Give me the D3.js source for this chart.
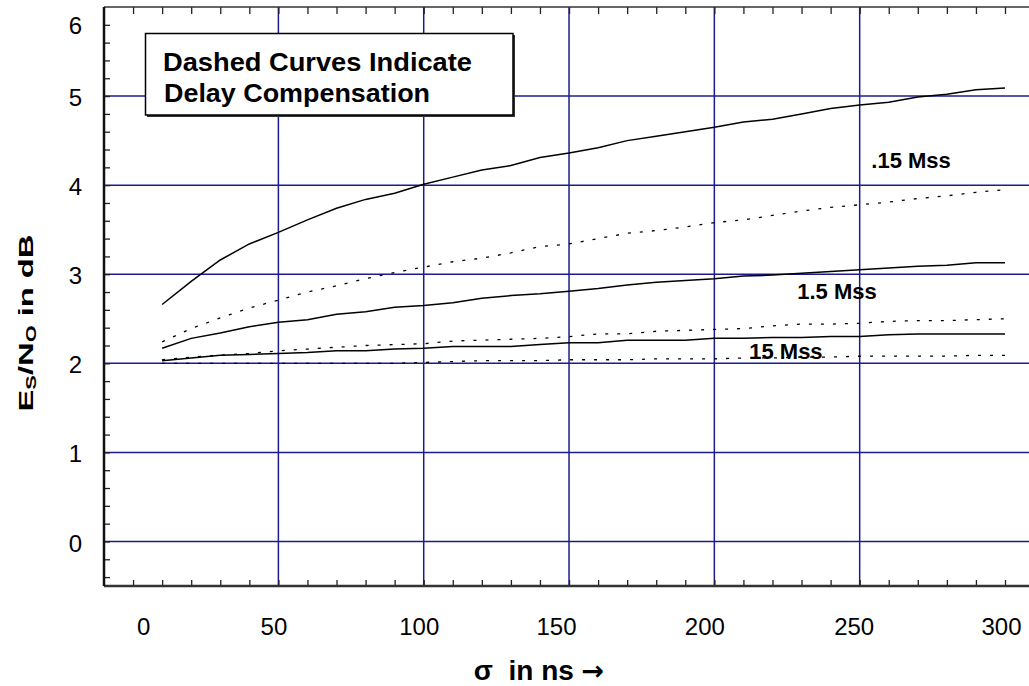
<!DOCTYPE html>
<html>
<head>
<meta charset="utf-8">
<script src="https://cdn.jsdelivr.net/npm/d3@7"></script>
<style>
  body { margin: 0; background: #fff; }
  svg { font-family: "Liberation Sans", Arial, sans-serif; }
  .tick-label text { font-size: 24px; fill: #000; }
</style>
</head>
<body>
<div id="chart"></div>
<script>
// sigma (ns) sample points, every 10 ns
const sigma = [10,20,30,40,50,60,70,80,90,100,110,120,130,140,150,160,170,180,190,200,210,220,230,240,250,260,270,280,290,300]

// Es/No in dB, solid = no compensation, dashed = delay compensation
const mss015Solid  = [2.66,2.92,3.16,3.34,3.47,3.61,3.74,3.84,3.91,4.01,4.09,4.17,4.22,4.31,4.36,4.42,4.50,4.55,4.60,4.65,4.71,4.74,4.80,4.86,4.90,4.93,4.99,5.02,5.07,5.09]
const mss015Dashed = [2.24,2.39,2.51,2.62,2.71,2.80,2.87,2.95,3.02,3.08,3.14,3.18,3.24,3.31,3.34,3.40,3.46,3.49,3.53,3.58,3.61,3.66,3.71,3.75,3.78,3.81,3.85,3.88,3.92,3.95]
const mss15Solid   = [2.17,2.28,2.34,2.41,2.46,2.49,2.55,2.58,2.63,2.65,2.68,2.73,2.76,2.78,2.81,2.84,2.88,2.91,2.93,2.95,2.98,2.99,3.01,3.03,3.05,3.07,3.09,3.10,3.13,3.13]
const mss15Dashed  = [2.04,2.07,2.09,2.11,2.14,2.16,2.18,2.20,2.21,2.22,2.25,2.26,2.27,2.28,2.30,2.33,2.33,2.36,2.37,2.38,2.39,2.42,2.44,2.44,2.45,2.47,2.48,2.48,2.49,2.50]
const mss150Solid  = [2.03,2.06,2.09,2.10,2.11,2.12,2.14,2.14,2.16,2.17,2.19,2.19,2.19,2.21,2.23,2.23,2.26,2.26,2.26,2.28,2.28,2.29,2.29,2.30,2.30,2.32,2.33,2.33,2.33,2.33]
const mss150Dashed = [2.00,2.00,2.00,2.00,2.00,2.00,2.00,2.00,2.00,2.01,2.02,2.03,2.03,2.03,2.04,2.04,2.04,2.05,2.05,2.05,2.06,2.06,2.07,2.07,2.08,2.08,2.08,2.08,2.09,2.09]

const xTickLabels = [0,50,100,150,200,250,300]
const yTickLabels = [0,1,2,3,4,5,6]
const xGrid = [50,100,150,200,250]
const yGrid = [0,1,2,3,4,5]

const seriesList = [
  {vals: mss015Solid,  dashed: false},
  {vals: mss015Dashed, dashed: true},
  {vals: mss15Solid,   dashed: false},
  {vals: mss15Dashed,  dashed: true},
  {vals: mss150Solid,  dashed: false},
  {vals: mss150Dashed, dashed: true}
]

// curve labels, placed in data coordinates
const curveLabels = [
  {text: ".15 Mss", x: 254, y: 4.19},
  {text: "1.5 Mss", x: 228.5, y: 2.72},
  {text: "15 Mss",  x: 212, y: 2.05}
]

const W = 1029, H = 686
const mLeft = 104, mTop = 7, mRight = 1005, mBottom = 586
const gridColor = "#1c1c8c"

const svg = d3.select("#chart").append("svg")
  .attr("width", W).attr("height", H)

const x = d3.scaleLinear().domain([-10, 300]).range([mLeft, mRight])
const y = d3.scaleLinear().domain([-0.5, 6]).range([mBottom, mTop])

// grid lines
svg.selectAll(".vgrid").data(xGrid).enter().append("line")
  .attr("x1", d => x(d)).attr("x2", d => x(d))
  .attr("y1", mTop).attr("y2", mBottom)
  .attr("stroke", gridColor).attr("stroke-width", 1.5)

svg.selectAll(".hgrid").data(yGrid).enter().append("line")
  .attr("x1", mLeft).attr("x2", W)
  .attr("y1", d => y(d)).attr("y2", d => y(d))
  .attr("stroke", gridColor).attr("stroke-width", 1.5)

// minor ticks, inward facing
const xMinor = d3.range(0, 301, 10)
const yMinor = d3.range(-0.4, 5.9, 0.2)

svg.append("g").attr("transform", `translate(0,${mBottom})`)
  .call(d3.axisBottom(x).tickValues(xMinor).tickSize(-6).tickFormat(""))
  .call(g => g.select(".domain").remove())
  .selectAll("line").attr("stroke", "#222").attr("stroke-width", 1.3)

svg.append("g").attr("transform", `translate(0,${mTop})`)
  .call(d3.axisTop(x).tickValues(xMinor).tickSize(-7).tickFormat(""))
  .call(g => g.select(".domain").remove())
  .selectAll("line").attr("stroke", "#222").attr("stroke-width", 1.3)

svg.append("g").attr("transform", `translate(${mLeft},0)`)
  .call(d3.axisLeft(y).tickValues(yMinor).tickSize(-6).tickFormat(""))
  .call(g => g.select(".domain").remove())
  .selectAll("line").attr("stroke", "#222").attr("stroke-width", 1.3)

// frame lines (left, bottom, top), no right edge
svg.append("line").attr("x1", mLeft).attr("x2", W).attr("y1", mBottom).attr("y2", mBottom)
  .attr("stroke", "#333").attr("stroke-width", 2.5)
svg.append("line").attr("x1", mLeft).attr("x2", W).attr("y1", mTop).attr("y2", mTop)
  .attr("stroke", "#333").attr("stroke-width", 1.5)
svg.append("line").attr("x1", mLeft).attr("x2", mLeft).attr("y1", mTop).attr("y2", mBottom)
  .attr("stroke", "#111").attr("stroke-width", 2.5)

// tick labels (the original labels sit a little off their grid lines)
const xLabelShift = {0: 10, 50: -5, 100: -5, 150: -13, 200: -10, 250: -6, 300: -4}

svg.append("g").attr("class", "tick-label")
  .attr("transform", `translate(0,${mBottom})`)
  .call(d3.axisBottom(x).tickValues(xTickLabels).tickSize(0).tickPadding(32).tickFormat(d3.format("d")))
  .call(g => g.select(".domain").remove())
  .selectAll("text")
  .attr("font-family", null).attr("font-size", null)
  .attr("dx", d => xLabelShift[d])

svg.append("g").attr("class", "tick-label")
  .attr("transform", `translate(${mLeft},0)`)
  .call(d3.axisLeft(y).tickValues(yTickLabels).tickSize(0).tickPadding(22).tickFormat(d3.format("d")))
  .call(g => g.select(".domain").remove())
  .selectAll("text")
  .attr("font-family", null).attr("font-size", null)
  .attr("dy", d => d === 6 ? "1.1em" : "0.4em")

// curves
const line = d3.line()
  .x((d, i) => x(sigma[i]))
  .y(d => y(d))

svg.selectAll(".curve").data(seriesList).enter().append("path")
  .attr("class", "curve")
  .attr("d", d => line(d.vals))
  .attr("fill", "none")
  .attr("stroke", "#000")
  .attr("stroke-width", d => d.dashed ? 1.3 : 1.5)
  .attr("stroke-dasharray", d => d.dashed ? "3,9" : null)

// curve labels
svg.selectAll(".curve-label").data(curveLabels).enter().append("text")
  .attr("x", d => x(d.x)).attr("y", d => y(d.y))
  .attr("font-size", 22).attr("font-weight", "bold")
  .text(d => d.text)

// note box with shadow
const box = svg.append("g")
box.append("rect").attr("x", 147).attr("y", 35).attr("width", 368).attr("height", 82).attr("fill", "#333")
box.append("rect").attr("x", 145.5).attr("y", 33.5).attr("width", 367.5).attr("height", 81.5)
  .attr("fill", "#fff").attr("stroke", "#000").attr("stroke-width", 1.5)
box.append("text").attr("x", 163).attr("y", 71)
  .attr("font-size", 25).attr("font-weight", "bold")
  .attr("textLength", 309).attr("lengthAdjust", "spacingAndGlyphs")
  .text("Dashed Curves Indicate")
box.append("text").attr("x", 164).attr("y", 102)
  .attr("font-size", 25).attr("font-weight", "bold")
  .attr("textLength", 266).attr("lengthAdjust", "spacingAndGlyphs")
  .text("Delay Compensation")

// y axis title, stretched along its baseline like the original
const yTitle = svg.append("text")
  .attr("text-anchor", "middle")
  .attr("font-size", 21).attr("font-weight", "bold")
yTitle.append("tspan").text("E")
yTitle.append("tspan").attr("font-size", 14).attr("dy", 3).text("S")
yTitle.append("tspan").attr("dy", -3).text("/N")
yTitle.append("tspan").attr("font-size", 14).attr("dy", 3).text("O")
yTitle.append("tspan").attr("dy", -3).text(" in dB")
const yLen = yTitle.node().getComputedTextLength()
yTitle.attr("transform", `translate(33,323) rotate(-90) scale(${177 / yLen},1)`)

// x axis title
const xTitle = svg.append("text")
  .attr("x", 539).attr("y", 680)
  .attr("text-anchor", "middle")
  .attr("font-size", 28).attr("font-weight", "bold")
  .attr("xml:space", "preserve")
xTitle.append("tspan").text("σ  in ns ")
xTitle.append("tspan").attr("font-family", "DejaVu Sans").attr("font-size", 27).text("→")
</script>
</body>
</html>
